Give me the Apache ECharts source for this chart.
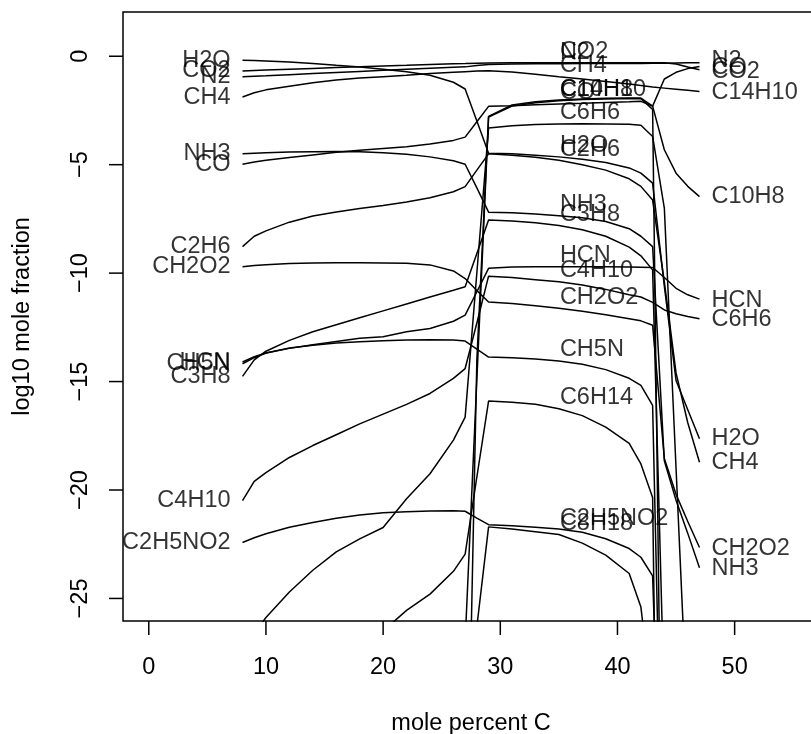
<!DOCTYPE html>
<html>
<head>
<meta charset="utf-8">
<script src="https://cdn.jsdelivr.net/npm/echarts@6/dist/echarts.min.js"></script>
<style>
  html, body { margin: 0; padding: 0; background: #fff; }
  #chart { width: 811px; height: 734px; }
</style>
</head>
<body>
<div id="chart"></div>
<script>
// mole percent C at which the speciation was evaluated
const molePctC = [8, 9, 10, 12, 14, 16, 18, 20, 22, 24, 26, 27, 28, 29, 31, 33, 35, 37, 39, 41, 42, 43, 44, 45, 46, 47];

// log10 mole fraction of each species (null = not computed / far below range)
const H2O     = [-0.18, -0.2, -0.22, -0.27, -0.33, -0.42, -0.5, -0.6, -0.72, -0.88, -1.2, -1.51, -2.99, -4.47, -4.5, -4.56, -4.64, -4.75, -4.9, -5.15, -5.39, -5.85, -10.6, -14.95, -16.3, -17.64];
const CO2     = [-0.68, -0.66, -0.64, -0.6, -0.56, -0.52, -0.49, -0.45, -0.42, -0.38, -0.35, -0.34, -0.32, -0.31, -0.3, -0.3, -0.3, -0.3, -0.3, -0.3, -0.3, -0.3, -0.3, -0.36, -0.5, -0.62];
const N2      = [-0.95, -0.92, -0.9, -0.85, -0.8, -0.75, -0.7, -0.65, -0.6, -0.55, -0.51, -0.49, -0.43, -0.38, -0.36, -0.35, -0.35, -0.34, -0.34, -0.33, -0.33, -0.32, -0.32, -0.31, -0.3, -0.3];
const CH4     = [-1.88, -1.68, -1.55, -1.38, -1.22, -1.1, -1.0, -0.94, -0.88, -0.8, -0.74, -0.71, -0.68, -0.67, -0.73, -0.83, -0.95, -1.05, -1.16, -1.28, -1.35, -1.42, -1.47, -1.52, -1.57, -1.62];
const NH3     = [-4.5, -4.47, -4.45, -4.42, -4.4, -4.39, -4.4, -4.45, -4.52, -4.64, -4.82, -4.98, -6.07, -7.19, -7.22, -7.27, -7.35, -7.45, -7.62, -7.95, -8.3, -8.78, -18.65, -20.47, -22.0, -23.58];
const CO      = [-4.98, -4.88, -4.8, -4.67, -4.55, -4.43, -4.34, -4.25, -4.17, -4.05, -3.88, -3.73, -3.02, -2.31, -2.28, -2.24, -2.2, -2.17, -2.13, -2.1, -2.08, -2.3, -1.05, -0.74, -0.57, -0.47];
const C2H6    = [-8.78, -8.3, -8.05, -7.65, -7.37, -7.18, -7.02, -6.88, -6.72, -6.52, -6.25, -6.01, -5.25, -4.5, -4.56, -4.66, -4.8, -5.0, -5.25, -5.65, -6.0, -6.63, -10.4, -14.6, -16.9, -18.72];
const CH2O2   = [-9.71, -9.65, -9.61, -9.56, -9.53, -9.52, -9.52, -9.53, -9.55, -9.62, -9.9, -10.25, -10.8, -11.33, -11.4, -11.5, -11.62, -11.76, -11.92, -12.1, -12.2, -12.4, -18.55, -20.2, -21.45, -22.65];
const HCN     = [-14.1, -13.85, -13.68, -13.47, -13.3, -13.15, -13.0, -12.93, -12.7, -12.55, -12.22, -11.94, -10.86, -9.78, -9.72, -9.71, -9.71, -9.71, -9.71, -9.72, -9.73, -9.74, -10.2, -10.7, -11.0, -11.2];
const CH5N    = [-14.18, -13.9, -13.68, -13.45, -13.33, -13.22, -13.16, -13.12, -13.08, -13.07, -13.08, -13.13, -13.5, -13.87, -13.9, -13.96, -14.05, -14.2, -14.45, -14.85, -15.18, -16.1, -40, null, null, null];
const C3H8    = [-14.76, -14.0, -13.6, -13.1, -12.7, -12.38, -12.06, -11.74, -11.42, -11.1, -10.79, -10.63, -9.1, -7.55, -7.6, -7.68, -7.8, -8.0, -8.3, -8.8, -9.2, -9.85, -30, null, null, null];
const C4H10   = [-20.49, -19.6, -19.2, -18.5, -17.95, -17.45, -16.95, -16.5, -16.05, -15.55, -14.85, -14.4, -12.3, -10.14, -10.2, -10.3, -10.4, -10.55, -10.75, -11.0, -11.1, -11.35, -11.7, -11.87, -12.0, -12.1];
const C2H5NO2 = [-22.42, -22.2, -22.02, -21.72, -21.5, -21.3, -21.15, -21.05, -21.0, -20.97, -20.96, -20.98, -21.3, -21.6, -21.65, -21.72, -21.8, -21.95, -22.25, -22.7, -23.1, -23.96, -40, null, null, null];
const C6H6    = [-27.2, -26.6, -25.88, -24.7, -23.7, -22.85, -22.25, -21.73, -20.4, -19.25, -17.7, -16.64, -9.98, -3.31, -3.2, -3.15, -3.12, -3.11, -3.12, -3.14, -3.18, -3.7, -7.0, -19.0, -31.0, null];
const C6H14   = [null, null, null, null, null, null, -27.5, -26.5, -25.55, -24.8, -23.75, -22.96, -19.4, -15.9, -15.95, -16.05, -16.25, -16.57, -17.1, -17.85, -18.8, -20.34, -60, null, null, null];
const C8H18   = [null, null, null, null, null, null, null, null, null, null, null, -60, -26.3, -21.7, -21.8, -21.92, -22.05, -22.45, -23.0, -23.85, -25.4, -30, null, null, null, null];
const C10H8   = [null, null, null, null, null, null, null, null, null, null, null, -40, -14.0, -2.77, -2.25, -2.1, -2.02, -1.97, -1.94, -1.92, -1.93, -2.3, -4.31, -5.39, -6.0, -6.47];
const C14H10  = [null, null, null, null, null, null, null, null, null, null, null, -27, -14.9, -2.8, -2.3, -2.14, -2.05, -2.0, -1.97, -1.95, -1.96, -2.45, -45, null, null, null];

const species = {
  H2O, CO2, N2, CH4, NH3, CO, C2H6, CH2O2, HCN, CH5N, C3H8, C4H10,
  C2H5NO2, C6H6, C6H14, C8H18, C10H8, C14H10
};

// labels on the high-carbon side
const rightNames = ['N2', 'CO', 'CO2', 'C14H10', 'C10H8', 'HCN', 'C6H6', 'H2O', 'CH4', 'CH2O2', 'NH3'];
const rightY     = [-0.18, -0.5, -0.72, -1.65, -6.47, -11.25, -12.14, -17.64, -18.72, -22.7, -23.62];

// axis ticks
const xTicks = [0, 10, 20, 30, 40, 50];
const yTicks = [-25, -20, -15, -10, -5, 0];

const Y_MIN = -26.04, Y_MAX = 2.04;
const X_MIN = -2.2, X_MAX = 57.2;
const MID_X = 35;
const TICK_LEN = 14;

const FONT = 'Liberation Sans, Arial, Helvetica, sans-serif';
const FS = 23.5;
const minus = v => String(v).replace('-', '\u2212');

const lineSeries = Object.keys(species).map(name => ({
  name,
  type: 'line',
  data: molePctC.map((x, i) => [x, species[name][i]]),
  showSymbol: false,
  connectNulls: false,
  clip: true,
  silent: true,
  lineStyle: { color: '#000', width: 1.5 },
  z: 2
}));

const names = Object.keys(species);
const midIdx = molePctC.indexOf(MID_X);
const firstX = molePctC[0];
const lastX = molePctC[molePctC.length - 1];

// species still inside the plotted range at the low-carbon end
const leftData = names
  .filter(n => species[n][0] !== null && species[n][0] >= Y_MIN)
  .map(n => [firstX, species[n][0], n]);
const midData = names.map(n => [MID_X, species[n][midIdx], n]);
const rightData = rightNames.map((n, i) => [lastX, rightY[i], n]);

function labelSeries(data, labelOpts) {
  return {
    type: 'scatter',
    data,
    symbolSize: 0.001,
    itemStyle: { color: 'rgba(0,0,0,0)' },
    silent: true,
    clip: false,
    z: 3,
    label: Object.assign({
      show: true,
      formatter: p => p.data[2],
      color: '#000',
      fontFamily: FONT,
      fontSize: FS
    }, labelOpts),
    labelLayout: { hideOverlap: false }
  };
}

// outward tick marks placed through the axis scales
function tickSeries(values, isX) {
  return {
    type: 'custom',
    silent: true,
    clip: false,
    z: 4,
    data: values.map(v => isX ? [v, Y_MIN] : [X_MIN, v]),
    renderItem: (params, api) => {
      const p = api.coord([api.value(0), api.value(1)]);
      const shape = isX
        ? { x1: p[0], y1: p[1], x2: p[0], y2: p[1] + TICK_LEN }
        : { x1: p[0], y1: p[1], x2: p[0] - TICK_LEN, y2: p[1] };
      return { type: 'line', shape, style: { stroke: '#000', lineWidth: 1.5 } };
    }
  };
}

const chart = echarts.init(document.getElementById('chart'), null, { renderer: 'canvas' });
chart.setOption({
  animation: false,
  backgroundColor: '#fff',
  textStyle: { fontFamily: FONT },
  grid: {
    left: 123, right: -8, top: 12, bottom: 113,
    containLabel: false,
    outerBoundsMode: 'none',
    show: true, borderColor: '#000', borderWidth: 1.5, backgroundColor: 'transparent'
  },
  xAxis: {
    type: 'value',
    min: X_MIN, max: X_MAX,
    position: 'bottom',
    axisLine: { show: false, onZero: false },
    splitLine: { show: false },
    axisTick: { show: false },
    axisLabel: { customValues: xTicks, margin: 35, color: '#000', fontSize: FS, fontFamily: FONT, formatter: minus },
    name: 'mole percent C',
    nameLocation: 'middle',
    nameGap: 91,
    nameTextStyle: { color: '#000', fontSize: FS, fontFamily: FONT }
  },
  yAxis: {
    type: 'value',
    min: Y_MIN, max: Y_MAX,
    position: 'left',
    axisLine: { show: false, onZero: false },
    splitLine: { show: false },
    axisTick: { show: false },
    axisLabel: { customValues: yTicks, rotate: 90, margin: 30, color: '#000', fontSize: FS, fontFamily: FONT, formatter: minus },
    name: 'log10 mole fraction',
    nameLocation: 'middle',
    nameGap: 88,
    nameTextStyle: { color: '#000', fontSize: FS, fontFamily: FONT }
  },
  series: lineSeries.concat([
    tickSeries(xTicks, true),
    tickSeries(yTicks, false),
    labelSeries(leftData, { position: 'left', distance: 12 }),
    // mid-range names sit just above their curve
    labelSeries(midData, { position: [1, -11], align: 'left', verticalAlign: 'middle' }),
    labelSeries(rightData, { position: 'right', distance: 12 })
  ])
});
</script>
</body>
</html>
